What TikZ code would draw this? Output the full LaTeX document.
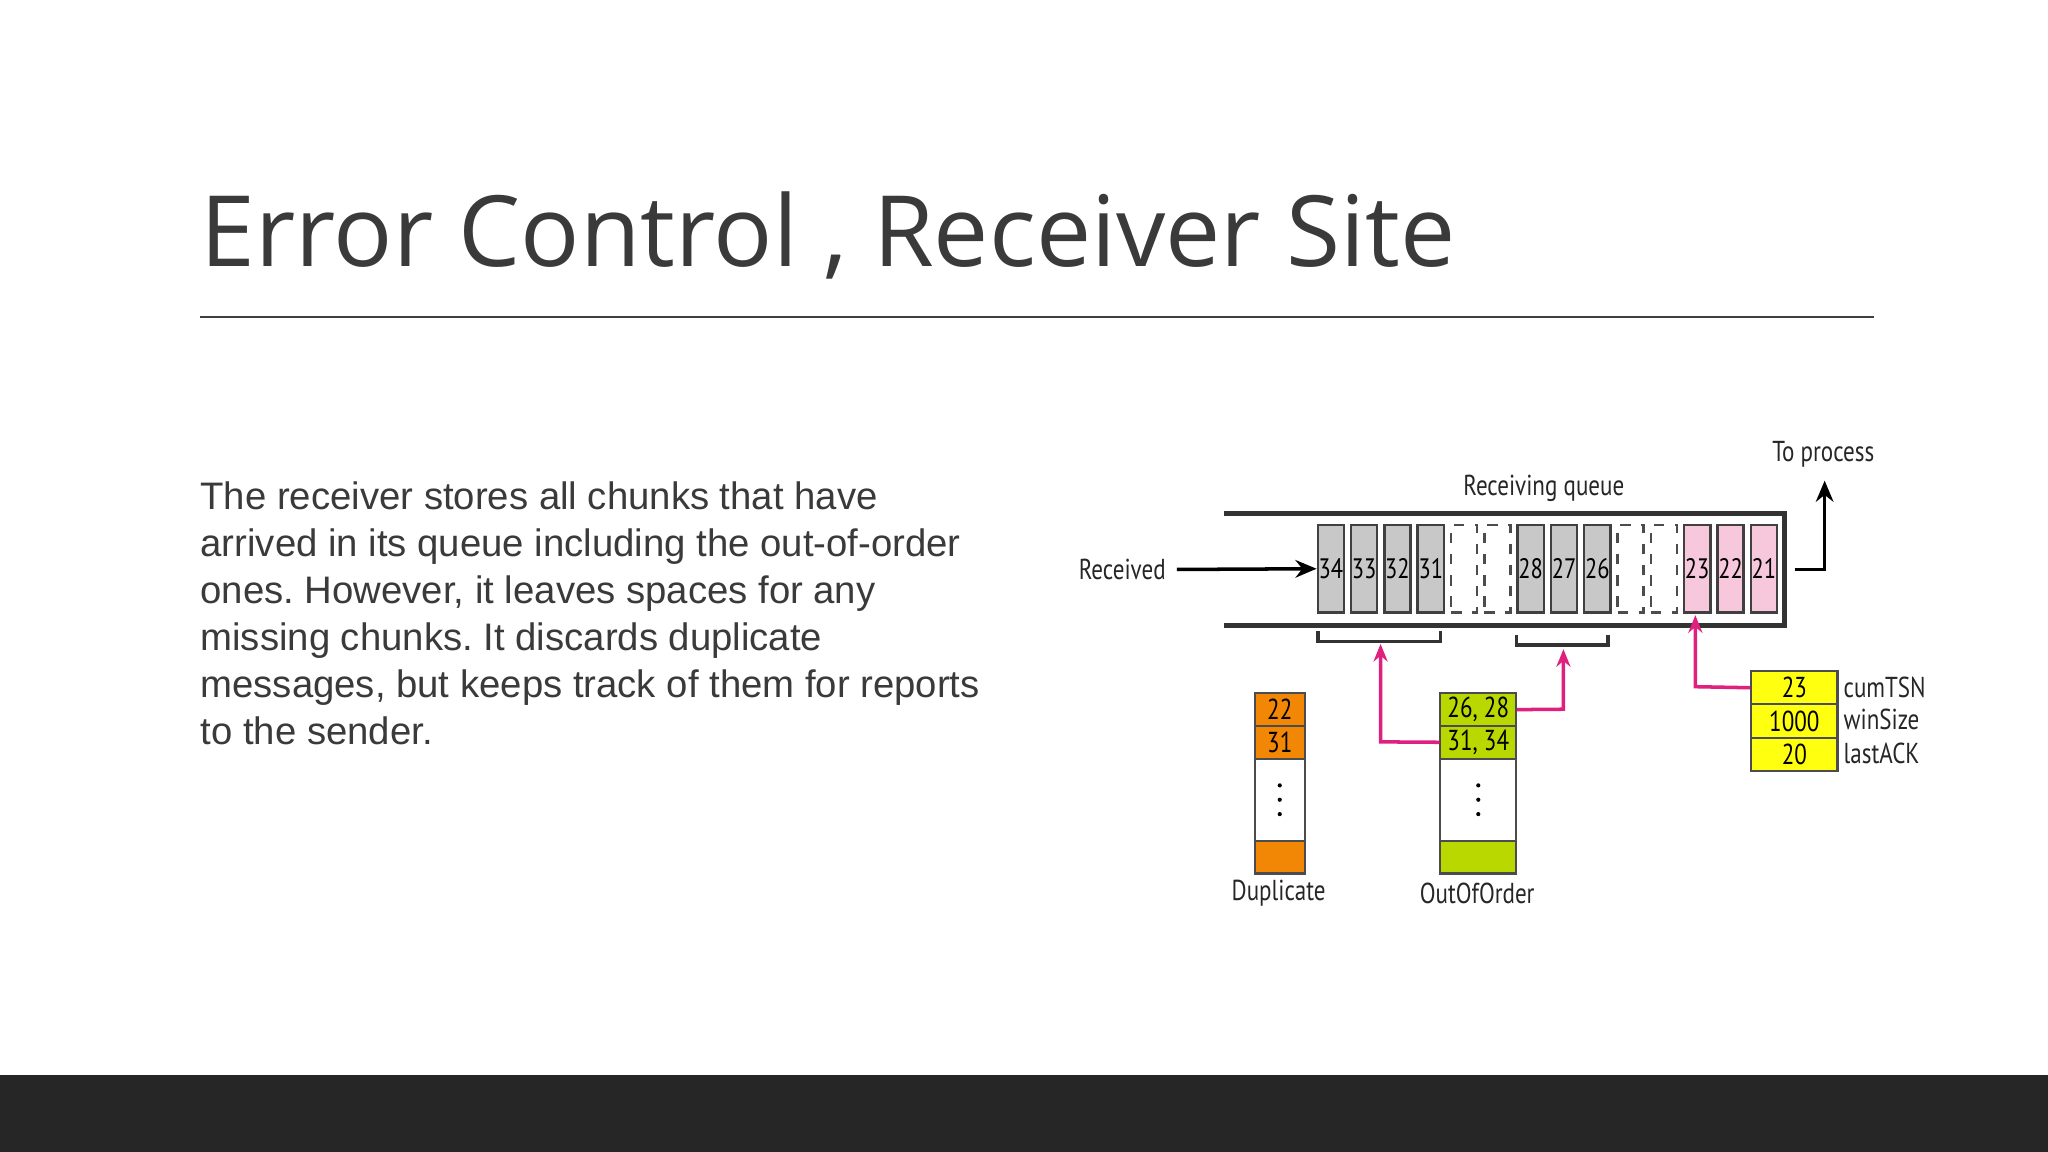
\documentclass[tikz,border=0pt]{standalone}
\usepackage{fontspec}
\setmainfont{Liberation Sans}
\newfontfamily\titlefont{Open Sans}
\newfontfamily\diagfont{PT Sans}[FakeStretch=0.8]
\usetikzlibrary{arrows.meta,calc}
\definecolor{darkbar}{HTML}{262626}
\definecolor{cellgray}{HTML}{C8C8C8}
\definecolor{cellpink}{HTML}{F7C8DC}
\definecolor{dorange}{HTML}{F28705}
\definecolor{ogreen}{HTML}{B8D800}
\definecolor{ayellow}{HTML}{FFFF10}
\definecolor{mag}{HTML}{E0207F}
\definecolor{txt}{HTML}{3A3A3A}
\newlength{\pxu}\setlength{\pxu}{0.013061cm}
\tikzset{
  lbl/.style={font=\diagfont\fontsize{8.2}{9}\selectfont, text=black!85, inner sep=0pt},
  cell/.style={draw=black!75, line width=0.7pt, minimum width=20\pxu, minimum height=67\pxu, inner sep=0pt, anchor=north west, font=\diagfont\fontsize{8}{9}\selectfont},
  gcell/.style={cell, fill=cellgray},
  pcell/.style={cell, fill=cellpink},
  dcell/.style={cell, draw=black!70, dashed, fill=white},
  wall/.style={line width=1.4pt, black!80},
  mlink/.style={mag, line width=1pt, -{Stealth[length=5pt,width=4pt]}},
  row/.style={draw=black!70, line width=0.6pt, inner sep=0pt, anchor=north west, font=\diagfont\fontsize{8.2}{9}\selectfont},
  vdot/.style={fill=black, circle, inner sep=0pt, minimum size=3.2\pxu}
}
\begin{document}
\begin{tikzpicture}[x=0.013061cm,y=-0.013061cm]
\frenchspacing
\useasboundingbox (0,0) rectangle (1568,882);
\fill[white] (0,0) rectangle (1568,882);
\fill[darkbar] (0,823) rectangle (1568,882);
% title
\node[anchor=base west, inner sep=0pt, text=txt, font=\titlefont\fontsize{28}{34}\selectfont] (title) at (153,204) {Error Control , Receiver Site};
\draw[black!75, line width=0.6pt] (153,243) -- (1435,243);
% body
\node[anchor=north west, inner sep=0pt, align=left, text=txt, font=\fontsize{10.9}{13.4}\selectfont] (body) at (153,368)
{The receiver stores all chunks that have\\arrived in its queue including the out-of-order\\ones. However, it leaves spaces for any\\missing chunks. It discards duplicate\\messages, but keeps track of them for reports\\to the sender.};
% queue walls
\draw[wall] (937,393) -- (1366,393) -- (1366,479) -- (937,479);
% cells
\foreach \i/\t/\s in {0/34/gcell,1/33/gcell,2/32/gcell,3/31/gcell,4/{}/dcell,5/{}/dcell,6/28/gcell,7/27/gcell,8/26/gcell,9/{}/dcell,10/{}/dcell,11/23/pcell,12/22/pcell,13/21/pcell}
  \node[\s] (c\i) at ({1008+25.5*\i},401) {\t};
\node[lbl] (rq) at (1182,374) {Receiving queue};
\node[lbl, anchor=east] (recv) at (893,436) {Received};
\draw[line width=1pt, -{Stealth[length=6pt,width=5pt]}] (recv.east)++(8,0) -- (c0.west);
\coordinate (tp1) at (1374,436);
\node[lbl] (tproc) at (1396,348) {To process};
\draw[line width=1pt, -{Stealth[length=6pt,width=5pt]}] (tp1) -- (1397,436) -- (1397,368);
% brackets
\draw[line width=1pt, black!80] (1009,483) -- (1009,491) -- (1103,491) -- (1103,483);
\draw[line width=1pt, black!80] (1161,486) -- (1161,494) -- (1231,494) -- (1231,486);
% duplicate
\node[row, fill=dorange, minimum width=38\pxu, minimum height=25\pxu] (d1) at (960,530) {22};
\node[row, fill=dorange, minimum width=38\pxu, minimum height=25\pxu] (d2) at (960,555) {31};
\node[row, fill=white, minimum width=38\pxu, minimum height=63\pxu] (d3) at (960,580) {};
\node[row, fill=dorange, minimum width=38\pxu, minimum height=25\pxu] (d4) at (960,643) {};
\foreach \k in {-1,0,1} \node[vdot] at ($(d3.center)+(0,\k*11)$) {};
\node[lbl] (dl) at (979,684) {Duplicate};
% out of order
\node[row, fill=ogreen, minimum width=58\pxu, minimum height=25\pxu] (o1) at (1102,530) {26, 28};
\node[row, fill=ogreen, minimum width=58\pxu, minimum height=25\pxu] (o2) at (1102,555) {31, 34};
\node[row, fill=white, minimum width=58\pxu, minimum height=63\pxu] (o3) at (1102,580) {};
\node[row, fill=ogreen, minimum width=58\pxu, minimum height=25\pxu] (o4) at (1102,643) {};
\foreach \k in {-1,0,1} \node[vdot] at ($(o3.center)+(0,\k*11)$) {};
\node[lbl] (ol) at (1131,684) {OutOfOrder};
% yellow
\node[row, fill=ayellow, minimum width=66\pxu, minimum height=25.5\pxu] (y1) at (1340,513) {23};
\node[row, fill=ayellow, minimum width=66\pxu, minimum height=25.5\pxu] (y2) at (1340,538.5) {1000};
\node[row, fill=ayellow, minimum width=66\pxu, minimum height=25.5\pxu] (y3) at (1340,564) {20};
\node[lbl, anchor=west] (yl1) at (1411,526) {cumTSN};
\node[lbl, anchor=west] (yl2) at (1411,551) {winSize};
\node[lbl, anchor=west] (yl3) at (1411,577) {lastACK};
% magenta links
\draw[mlink] (o2.west) -- (1057,568) -- (1057,493);
\draw[mlink] (o1.east) -- (1197,543) -- (1197,497);
\draw[mlink] (y1.west) -- (1298,525.75) -- (1298,471);
\end{tikzpicture}
\end{document}
